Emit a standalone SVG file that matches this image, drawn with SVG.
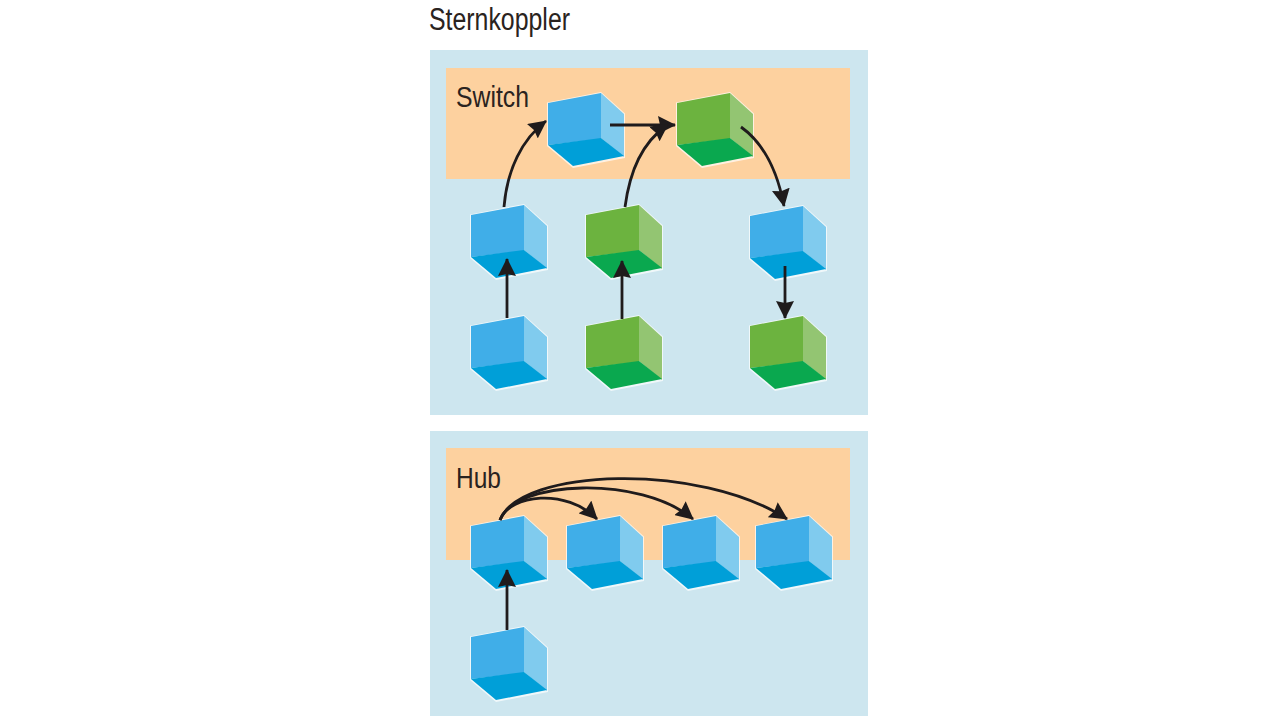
<svg xmlns="http://www.w3.org/2000/svg" width="1280" height="719" viewBox="0 0 1280 719">
<style>
.panel{fill:#cde6ef}
.band{fill:#fdd19f}
.lbl{font-family:"Liberation Sans",Arial,sans-serif;fill:#2a2320}
.edge{fill:none;stroke:#1f1b1c;stroke-width:2.8}
.halo{fill:#fff;opacity:.7}
.front{fill:var(--front)}.side{fill:var(--side)}.bot{fill:var(--bot)}
.blue{--front:#40aee8;--side:#80cbee;--bot:#009fd8}
.green{--front:#6cb33f;--side:#93c572;--bot:#0aa84f}
</style>
<defs>
<marker id="ah" markerUnits="userSpaceOnUse" viewBox="0 0 18 18" refX="17" refY="9" markerWidth="18" markerHeight="18" orient="auto"><path d="M0 0L18 9L0 18L2 9Z" fill="#1f1b1c"/></marker>
<g id="cube">
<path class="halo" d="M-1 9.500L53 -1L77 20.500V65L25 75L-1 53Z"/>
<path class="front" d="M0 10L53 0V46L0 52Z"/>
<path class="side" d="M53 0L76 21V64L53 45Z"/>
<path class="bot" d="M0 52L53 45L76 63L25 73Z"/>
</g>
</defs>
<text class="lbl" x="429" y="30" font-size="31" textLength="141" lengthAdjust="spacingAndGlyphs">Sternkoppler</text>
<g id="switch-panel"><rect class="panel" x="430" y="50" width="438" height="365"/><rect class="band" x="446" y="68" width="404" height="111"/><text class="lbl" x="456" y="107" font-size="30" textLength="73" lengthAdjust="spacingAndGlyphs">Switch</text></g>
<g id="hub-panel"><rect class="panel" x="430" y="431" width="438" height="285"/><rect class="band" x="446" y="448" width="404" height="112"/><text class="lbl" x="456" y="488" font-size="30" textLength="45" lengthAdjust="spacingAndGlyphs">Hub</text></g>
<g id="s1" class="blue"><use href="#cube" x="548" y="93"/></g>
<g id="s2" class="green"><use href="#cube" x="677" y="93"/></g>
<g id="s3" class="blue"><use href="#cube" x="471" y="205"/></g>
<g id="s4" class="green"><use href="#cube" x="586" y="205"/></g>
<g id="s5" class="blue"><use href="#cube" x="750" y="206"/></g>
<g id="s6" class="blue"><use href="#cube" x="471" y="316"/></g>
<g id="s7" class="green"><use href="#cube" x="586" y="316"/></g>
<g id="s8" class="green"><use href="#cube" x="750" y="316"/></g>
<g id="h1" class="blue"><use href="#cube" x="471" y="516"/></g>
<g id="h2" class="blue"><use href="#cube" x="567" y="516"/></g>
<g id="h3" class="blue"><use href="#cube" x="663" y="516"/></g>
<g id="h4" class="blue"><use href="#cube" x="756" y="516"/></g>
<g id="h5" class="blue"><use href="#cube" x="471" y="627"/></g>
<g id="connectors">
<path class="edge" marker-end="url(#ah)" d="M504 207C507 170 522 139 546 121"/>
<path class="edge" marker-end="url(#ah)" d="M610 125H675"/>
<path class="edge" marker-end="url(#ah)" d="M625 207C630 170 642 143 668 124"/>
<path class="edge" marker-end="url(#ah)" d="M741 127C762 142 777 169 784 206"/>
<path class="edge" marker-end="url(#ah)" d="M507 318V259"/>
<path class="edge" marker-end="url(#ah)" d="M622 319V261"/>
<path class="edge" marker-end="url(#ah)" d="M785 266V318"/>
<path class="edge" marker-end="url(#ah)" d="M507 630V570"/>
<path class="edge" marker-end="url(#ah)" d="M500 520C510 494 566 488 597 519"/>
<path class="edge" marker-end="url(#ah)" d="M500 520C515 480 640 475 693 519"/>
<path class="edge" marker-end="url(#ah)" d="M500 520C520 468 700 462 787 519"/>
</g>
</svg>
